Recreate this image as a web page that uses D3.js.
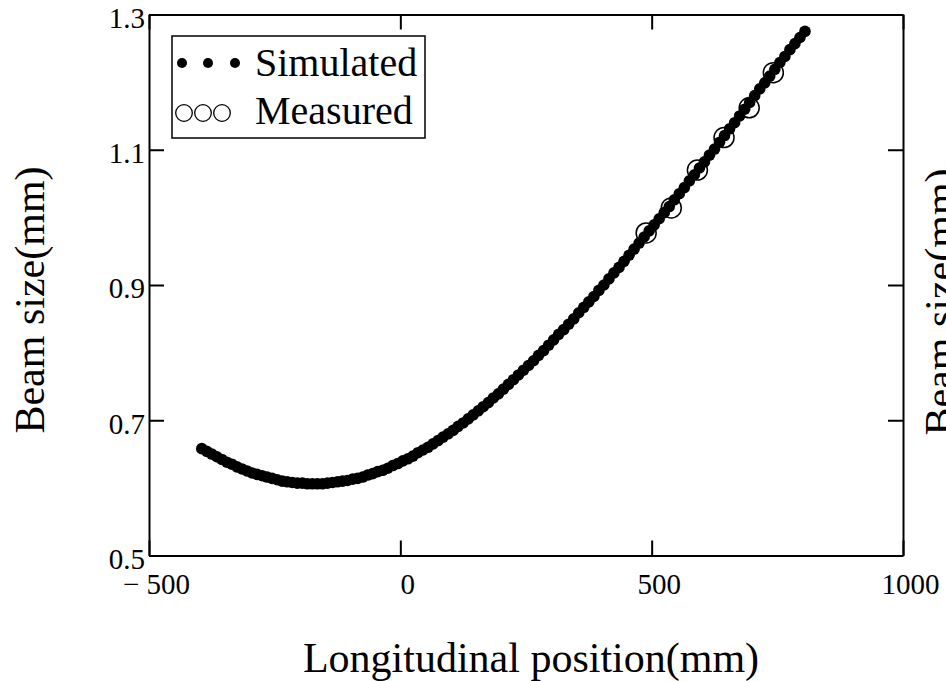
<!DOCTYPE html>
<html>
<head>
<meta charset="utf-8">
<script src="https://cdn.jsdelivr.net/npm/d3@7"></script>
<style>
  body { margin: 0; background: #fff; }
  svg text { font-family: "Liberation Serif", "Times New Roman", serif; fill: #000; }
</style>
</head>
<body>
<div id="chart"></div>
<script>
// simulated beam size along the line (mm)
var simZ = [-395,-385,-375,-365,-355,-345,-335,-325,-315,-305,-295,-285,-275,-265,-255,-245,-235,-225,-215,-205,
  -195,-185,-175,-165,-155,-145,-135,-125,-115,-105,-95,-85,-75,-65,-55,-45,-35,-25,-15,-5,
  5,15,25,35,45,55,65,75,85,95,105,115,125,135,145,155,165,175,185,195,
  205,215,225,235,245,255,265,275,285,295,305,315,325,335,345,355,365,375,385,395,
  405,415,425,435,445,455,465,475,485,495,505,515,525,535,545,555,565,575,585,595,
  605,615,625,635,645,655,665,675,685,695,705,715,725,735,745,755,765,775,785,795,805];
var simBeam = [0.658,0.654,0.650,0.646,0.642,0.638,0.635,0.631,0.628,0.625,0.622,0.620,0.618,0.616,0.614,0.612,0.610,0.609,0.608,0.607,
  0.607,0.606,0.606,0.606,0.606,0.607,0.608,0.609,0.610,0.611,0.613,0.614,0.616,0.619,0.621,0.624,0.626,0.629,0.633,0.636,
  0.640,0.643,0.647,0.652,0.656,0.660,0.665,0.670,0.675,0.680,0.685,0.691,0.696,0.702,0.708,0.714,0.720,0.726,0.733,0.739,
  0.746,0.753,0.760,0.767,0.774,0.781,0.788,0.796,0.803,0.811,0.819,0.827,0.834,0.842,0.850,0.859,0.867,0.875,0.883,0.892,
  0.900,0.909,0.918,0.926,0.935,0.944,0.953,0.962,0.971,0.980,0.989,0.998,1.007,1.016,1.026,1.035,1.044,1.054,1.063,1.073,
  1.082,1.092,1.101,1.111,1.121,1.131,1.140,1.150,1.160,1.170,1.180,1.190,1.199,1.209,1.219,1.229,1.238,1.248,1.257,1.266,1.275];

// measured points
var measZ = [489, 539, 591, 644, 694, 742];
var measBeam = [0.977, 1.014, 1.070, 1.118, 1.162, 1.214];

var xTicks = [-500, 0, 500, 1000];
var yTicks = [0.5, 0.7, 0.9, 1.1, 1.3];
var legendLabels = ["Simulated", "Measured"];

var W = 946, H = 681;
var margin = {top: 14.5, right: 43, bottom: 125.5, left: 149},
    width = W - margin.left - margin.right,
    height = H - margin.top - margin.bottom;

var serif = "Liberation Serif, Times New Roman, serif";

var svg = d3.select("#chart").append("svg")
  .attr("width", W)
  .attr("height", H);

var g = svg.append("g")
  .attr("transform", "translate(" + margin.left + "," + margin.top + ")");

var x = d3.scaleLinear().domain([-500, 1000]).range([0, width]);
var y = d3.scaleLinear().domain([0.5, 1.3]).range([height, 0]);

function styleAxis(sel) {
  sel.attr("font-family", serif);
  sel.select(".domain").attr("stroke", "#000").attr("stroke-width", 2);
  sel.selectAll(".tick line").attr("stroke", "#000").attr("stroke-width", 2);
}

// bottom axis
var xAxis = g.append("g")
  .attr("transform", "translate(0," + height + ")")
  .call(d3.axisBottom(x).tickValues(xTicks).tickSizeInner(-15).tickSizeOuter(0).tickPadding(18)
    .tickFormat(function(d) { return d < 0 ? "\u2212 " + Math.abs(d) : d; }));
xAxis.call(styleAxis);
xAxis.selectAll("text").attr("font-size", 29).attr("dx", 7);

// top axis
g.append("g")
  .call(d3.axisTop(x).tickValues(xTicks).tickSizeInner(-15).tickSizeOuter(0).tickFormat(""))
  .call(styleAxis);

// left axis
var yAxis = g.append("g")
  .call(d3.axisLeft(y).tickValues(yTicks).tickSizeInner(-15).tickSizeOuter(0).tickPadding(4)
    .tickFormat(d3.format(".1f")));
yAxis.call(styleAxis);
yAxis.selectAll("text").attr("font-size", 29).attr("dy", "0.44em");

// right axis
g.append("g")
  .attr("transform", "translate(" + width + ",0)")
  .call(d3.axisRight(y).tickValues(yTicks).tickSizeInner(-15).tickSizeOuter(0).tickFormat(""))
  .call(styleAxis);

// simulated dots
g.append("g").selectAll("circle")
  .data(simZ)
  .enter().append("circle")
  .attr("cx", function(d) { return x(d); })
  .attr("cy", function(d, i) { return y(simBeam[i]); })
  .attr("r", 5.8)
  .attr("fill", "#000");

// measured circles
g.append("g").selectAll("circle")
  .data(measZ)
  .enter().append("circle")
  .attr("cx", function(d) { return x(d); })
  .attr("cy", function(d, i) { return y(measBeam[i]); })
  .attr("r", 10)
  .attr("fill", "none")
  .attr("stroke", "#000")
  .attr("stroke-width", 1.5);

// axis titles
svg.append("text")
  .attr("x", 531)
  .attr("y", 672)
  .attr("text-anchor", "middle")
  .attr("font-size", 42)
  .text("Longitudinal position(mm)");

svg.append("text")
  .attr("transform", "translate(44,300)rotate(-90)")
  .attr("text-anchor", "middle")
  .attr("font-size", 42)
  .text("Beam size(mm)");

// label of the neighbouring panel, cut by the page edge
svg.append("text")
  .attr("transform", "translate(954,302)rotate(-90)")
  .attr("text-anchor", "middle")
  .attr("font-size", 42)
  .text("Beam size(mm)");

// legend
var leg = svg.append("g");
leg.append("rect")
  .attr("x", 172).attr("y", 36)
  .attr("width", 253).attr("height", 102)
  .attr("fill", "#fff")
  .attr("stroke", "#000")
  .attr("stroke-width", 1.5);

[182, 208, 235].forEach(function(cx) {
  leg.append("circle").attr("cx", cx).attr("cy", 63).attr("r", 5).attr("fill", "#000");
});
[184, 203, 222].forEach(function(cx) {
  leg.append("circle").attr("cx", cx).attr("cy", 113).attr("r", 8.3)
    .attr("fill", "none").attr("stroke", "#000").attr("stroke-width", 1.3);
});

leg.selectAll("text.lab")
  .data(legendLabels)
  .enter().append("text")
  .attr("class", "lab")
  .attr("x", 255)
  .attr("y", function(d, i) { return 76 + i * 48; })
  .attr("font-size", 40)
  .text(function(d) { return d; });
</script>
</body>
</html>
